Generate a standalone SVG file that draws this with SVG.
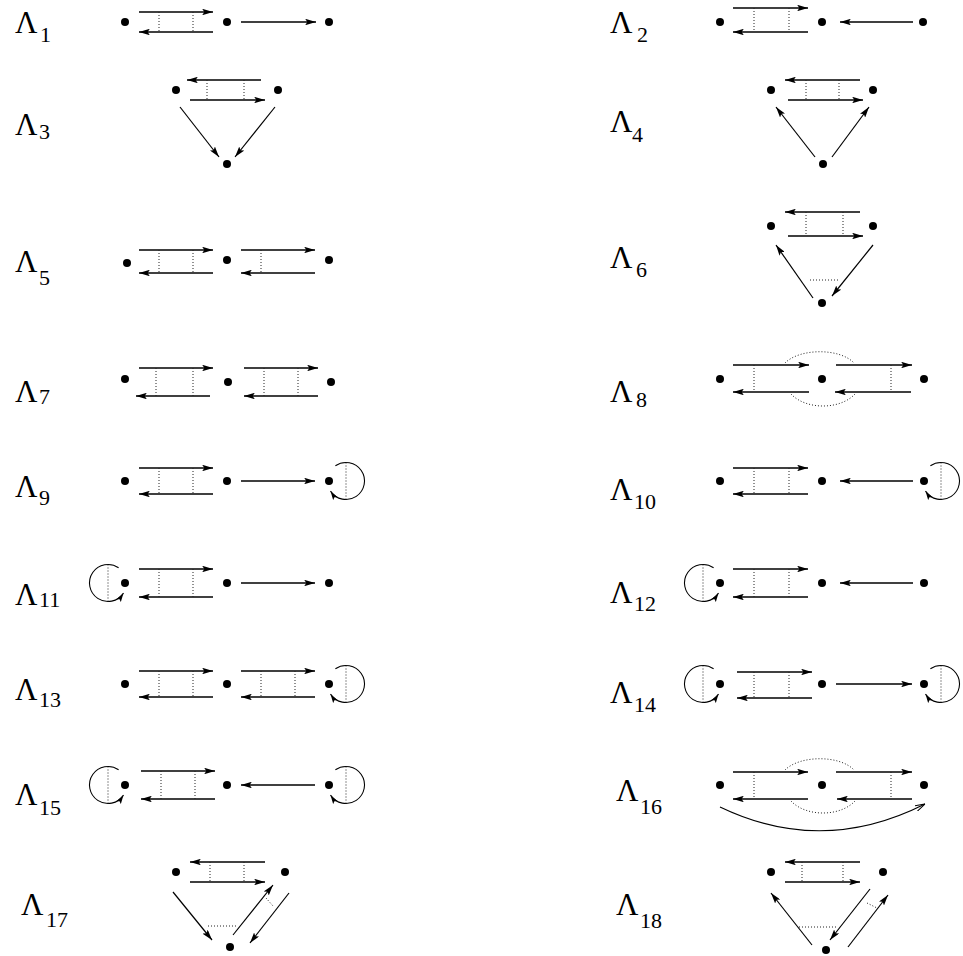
<svg xmlns="http://www.w3.org/2000/svg" width="963" height="956" viewBox="0 0 963 956">
<style>
.e{stroke:#000;stroke-width:1.5;fill:none;marker-end:url(#ah)}
.t{stroke:#000;stroke-width:1.2;fill:none;marker-end:url(#ah)}
.d{stroke:#222;stroke-width:1;stroke-dasharray:1 2;fill:none}
.lp{stroke:#000;stroke-width:1.1;fill:none;marker-end:url(#ahs)}
.n{fill:#000}
.lab{font-family:"Liberation Serif","Times New Roman",serif;font-size:31px;fill:#000}
.sub{font-size:22px}
</style>
<defs>
<marker id="ah" viewBox="0 0 10 6" refX="10" refY="3" markerWidth="11" markerHeight="6.5" markerUnits="userSpaceOnUse" orient="auto"><path d="M0,0 L10,3 L0,6 L2,3 z" fill="#000"/></marker>
<marker id="ahs" viewBox="0 0 10 6" refX="10" refY="3" markerWidth="9" markerHeight="6" markerUnits="userSpaceOnUse" orient="auto"><path d="M0,0 L10,3 L0,6 L2,3 z" fill="#000"/></marker>
<marker id="aho" viewBox="0 0 10 6" refX="10" refY="3" markerWidth="10" markerHeight="6" markerUnits="userSpaceOnUse" orient="auto"><path d="M0,0 L10,3 L0,6" fill="none" stroke="#000" stroke-width="1"/></marker>
</defs>

<!-- Labels -->
<g id="labels">
<text class="lab" x="15" y="33">Λ<tspan class="sub" x="40" y="42">1</tspan></text>
<text class="lab" x="610" y="33">Λ<tspan class="sub" x="637" y="42">2</tspan></text>
<text class="lab" x="15" y="135">Λ<tspan class="sub" x="39" y="139">3</tspan></text>
<text class="lab" x="610" y="132">Λ<tspan class="sub" x="632" y="142">4</tspan></text>
<text class="lab" x="15" y="272">Λ<tspan class="sub" x="39" y="285">5</tspan></text>
<text class="lab" x="610" y="268">Λ<tspan class="sub" x="636" y="277">6</tspan></text>
<text class="lab" x="15" y="402">Λ<tspan class="sub" x="39" y="404">7</tspan></text>
<text class="lab" x="610" y="402">Λ<tspan class="sub" x="636" y="407">8</tspan></text>
<text class="lab" x="15" y="497">Λ<tspan class="sub" x="39" y="505">9</tspan></text>
<text class="lab" x="610" y="500">Λ<tspan class="sub" x="634" y="509">10</tspan></text>
<text class="lab" x="15" y="605">Λ<tspan class="sub" x="39" y="607">11</tspan></text>
<text class="lab" x="610" y="603">Λ<tspan class="sub" x="634" y="611">12</tspan></text>
<text class="lab" x="15" y="700">Λ<tspan class="sub" x="39" y="707">13</tspan></text>
<text class="lab" x="610" y="703">Λ<tspan class="sub" x="634" y="712">14</tspan></text>
<text class="lab" x="15" y="805">Λ<tspan class="sub" x="39" y="815">15</tspan></text>
<text class="lab" x="616" y="801">Λ<tspan class="sub" x="640" y="814">16</tspan></text>
<text class="lab" x="21" y="915">Λ<tspan class="sub" x="46" y="927">17</tspan></text>
<text class="lab" x="616" y="915">Λ<tspan class="sub" x="640" y="928">18</tspan></text>
</g>

<!-- Nodes -->
<g id="nodes">
<g id="L1-a"><circle class="n" cx="125" cy="22" r="4"/></g>
<g id="L1-b"><circle class="n" cx="227" cy="22" r="4"/></g>
<g id="L1-c"><circle class="n" cx="329" cy="22" r="4"/></g>
<g id="L2-a"><circle class="n" cx="720" cy="22" r="4"/></g>
<g id="L2-b"><circle class="n" cx="822" cy="22" r="4"/></g>
<g id="L2-c"><circle class="n" cx="923" cy="22" r="4"/></g>
<g id="L3-a"><circle class="n" cx="176" cy="90" r="4"/></g>
<g id="L3-b"><circle class="n" cx="278" cy="90" r="4"/></g>
<g id="L3-c"><circle class="n" cx="227" cy="164" r="4"/></g>
<g id="L4-a"><circle class="n" cx="771" cy="90" r="4"/></g>
<g id="L4-b"><circle class="n" cx="873" cy="90" r="4"/></g>
<g id="L4-c"><circle class="n" cx="823" cy="164" r="4"/></g>
<g id="L5-a"><circle class="n" cx="127" cy="263" r="4"/></g>
<g id="L5-b"><circle class="n" cx="227" cy="260" r="4"/></g>
<g id="L5-c"><circle class="n" cx="329" cy="260" r="4"/></g>
<g id="L6-a"><circle class="n" cx="771" cy="226" r="4"/></g>
<g id="L6-b"><circle class="n" cx="873" cy="226" r="4"/></g>
<g id="L6-c"><circle class="n" cx="822" cy="303" r="4"/></g>
<g id="L7-a"><circle class="n" cx="125" cy="379" r="4"/></g>
<g id="L7-b"><circle class="n" cx="228" cy="382" r="4"/></g>
<g id="L7-c"><circle class="n" cx="331" cy="382" r="4"/></g>
<g id="L8-a"><circle class="n" cx="720" cy="379" r="4"/></g>
<g id="L8-b"><circle class="n" cx="822" cy="379" r="4"/></g>
<g id="L8-c"><circle class="n" cx="924" cy="379" r="4"/></g>
<g id="L9-a"><circle class="n" cx="125" cy="481" r="4"/></g>
<g id="L9-b"><circle class="n" cx="227" cy="481" r="4"/></g>
<g id="L9-c"><circle class="n" cx="329" cy="481" r="4"/></g>
<g id="L10-a"><circle class="n" cx="720" cy="481" r="4"/></g>
<g id="L10-b"><circle class="n" cx="822" cy="481" r="4"/></g>
<g id="L10-c"><circle class="n" cx="924" cy="481" r="4"/></g>
<g id="L11-a"><circle class="n" cx="125" cy="583" r="4"/></g>
<g id="L11-b"><circle class="n" cx="227" cy="583" r="4"/></g>
<g id="L11-c"><circle class="n" cx="329" cy="583" r="4"/></g>
<g id="L12-a"><circle class="n" cx="720" cy="583" r="4"/></g>
<g id="L12-b"><circle class="n" cx="822" cy="583" r="4"/></g>
<g id="L12-c"><circle class="n" cx="924" cy="583" r="4"/></g>
<g id="L13-a"><circle class="n" cx="125" cy="684" r="4"/></g>
<g id="L13-b"><circle class="n" cx="227" cy="684" r="4"/></g>
<g id="L13-c"><circle class="n" cx="329" cy="684" r="4"/></g>
<g id="L14-a"><circle class="n" cx="720" cy="684" r="4"/></g>
<g id="L14-b"><circle class="n" cx="822" cy="684" r="4"/></g>
<g id="L14-c"><circle class="n" cx="924" cy="684" r="4"/></g>
<g id="L15-a"><circle class="n" cx="125" cy="785" r="4"/></g>
<g id="L15-b"><circle class="n" cx="227" cy="785" r="4"/></g>
<g id="L15-c"><circle class="n" cx="329" cy="785" r="4"/></g>
<g id="L16-a"><circle class="n" cx="720" cy="785" r="4"/></g>
<g id="L16-b"><circle class="n" cx="822" cy="785" r="4"/></g>
<g id="L16-c"><circle class="n" cx="924" cy="785" r="4"/></g>
<g id="L17-a"><circle class="n" cx="176" cy="872" r="4"/></g>
<g id="L17-b"><circle class="n" cx="285" cy="872" r="4"/></g>
<g id="L17-c"><circle class="n" cx="230" cy="947" r="4"/></g>
<g id="L18-a"><circle class="n" cx="771" cy="872" r="4"/></g>
<g id="L18-b"><circle class="n" cx="883" cy="872" r="4"/></g>
<g id="L18-c"><circle class="n" cx="826" cy="950" r="4"/></g>
</g>

<!-- Connectors -->
<g id="connectors">
<!-- L1 -->
<path class="e" d="M139,12 H213"/><path class="e" d="M213,32 H139"/>
<path class="d" d="M159,12 V32 M193,12 V32"/>
<path class="e" d="M241,22 H316"/>
<!-- L2 -->
<path class="e" d="M733,8 H808"/><path class="e" d="M808,32 H733"/>
<path class="d" d="M754,8 V32 M789,8 V32"/>
<path class="e" d="M913,22 H840"/>
<!-- L3 -->
<path class="e" d="M261,80 H187"/><path class="e" d="M190,100 H265"/>
<path class="d" d="M207,80 V100 M244,80 V100"/>
<path class="t" d="M180,107 L219,157"/><path class="t" d="M275,107 L235,157"/>
<!-- L4 -->
<path class="e" d="M860,80 H785"/><path class="e" d="M788,100 H863"/>
<path class="d" d="M806,80 V100 M839,80 V100"/>
<path class="t" d="M815,157 L776,107"/><path class="t" d="M832,157 L869,107"/>
<!-- L5 -->
<path class="e" d="M139,250 H213"/><path class="e" d="M213,273 H139"/>
<path class="d" d="M159,250 V273 M193,250 V273"/>
<path class="e" d="M241,250 H315"/><path class="e" d="M315,273 H241"/>
<path class="d" d="M261,250 V273"/>
<!-- L6 -->
<path class="e" d="M860,212 H785"/><path class="e" d="M788,236 H863"/>
<path class="d" d="M806,212 V236 M843,212 V236"/>
<path class="t" d="M813,298 L776,245"/><path class="t" d="M873,245 L832,296"/>
<path class="d" d="M810,280 H839"/>
<!-- L7 -->
<path class="e" d="M139,368 H213"/><path class="e" d="M210,396 H136"/>
<path class="d" d="M156,368 V396 M193,368 V396"/>
<path class="e" d="M244,368 H318"/><path class="e" d="M318,396 H244"/>
<path class="d" d="M264,368 V396 M298,368 V396"/>
<!-- L8 -->
<path class="e" d="M733,365 H809"/><path class="e" d="M809,392 H733"/>
<path class="d" d="M754,365 V392"/>
<path class="e" d="M836,365 H912"/><path class="e" d="M911,392 H835"/>
<path class="d" d="M891,365 V392"/>
<path class="d" d="M785,363 C800,348 840,348 854,363"/>
<path class="d" d="M791,394 C806,410 840,410 855,394"/>
<!-- L9 -->
<path class="e" d="M139,468 H213"/><path class="e" d="M213,494 H139"/>
<path class="d" d="M159,468 V494 M193,468 V494"/>
<path class="e" d="M241,481 H315"/>
<path class="lp" d="M335.4,465.8 A18.5,18.5 0 1 1 330.5,491.1"/>
<path class="d" d="M346,462.5 V499.5"/>
<!-- L10 -->
<path class="e" d="M733,468 H808"/><path class="e" d="M808,494 H733"/>
<path class="d" d="M754,468 V494 M789,468 V494"/>
<path class="e" d="M913,481 H840"/>
<path class="lp" d="M930.4,465.8 A18.5,18.5 0 1 1 925.5,491.1"/>
<path class="d" d="M941,462.5 V499.5"/>
<!-- L11 -->
<path class="lp" d="M118.6,567.8 A18.5,18.5 0 1 0 123.5,593.1"/>
<path class="d" d="M108,564.5 V601.5"/>
<path class="e" d="M139,569 H213"/><path class="e" d="M213,597 H139"/>
<path class="d" d="M159,569 V597 M193,569 V597"/>
<path class="e" d="M241,583 H315"/>
<!-- L12 -->
<path class="lp" d="M713.6,567.8 A18.5,18.5 0 1 0 718.5,593.1"/>
<path class="d" d="M703,564.5 V601.5"/>
<path class="e" d="M733,569 H808"/><path class="e" d="M808,597 H733"/>
<path class="d" d="M754,569 V597 M789,569 V597"/>
<path class="e" d="M913,583 H840"/>
<!-- L13 -->
<path class="e" d="M139,671 H213"/><path class="e" d="M213,697 H139"/>
<path class="d" d="M159,671 V697 M193,671 V697"/>
<path class="e" d="M241,671 H315"/><path class="e" d="M315,697 H241"/>
<path class="d" d="M261,671 V697 M295,671 V697"/>
<path class="lp" d="M335.4,668.8 A18.5,18.5 0 1 1 330.5,694.1"/>
<path class="d" d="M346,665.5 V702.5"/>
<!-- L14 -->
<path class="lp" d="M713.6,668.8 A18.5,18.5 0 1 0 718.5,694.1"/>
<path class="d" d="M703,665.5 V702.5"/>
<path class="e" d="M737,672 H812"/><path class="e" d="M812,698 H737"/>
<path class="d" d="M754,672 V698 M789,672 V698"/>
<path class="e" d="M836,684 H912"/>
<path class="lp" d="M930.4,668.8 A18.5,18.5 0 1 1 925.5,694.1"/>
<path class="d" d="M941,665.5 V702.5"/>
<!-- L15 -->
<path class="lp" d="M118.6,769.8 A18.5,18.5 0 1 0 123.5,795.1"/>
<path class="d" d="M108,766.5 V803.5"/>
<path class="e" d="M141,771 H215"/><path class="e" d="M215,799 H141"/>
<path class="d" d="M161,771 V799 M195,771 V799"/>
<path class="e" d="M315,785 H241"/>
<path class="lp" d="M335.4,769.8 A18.5,18.5 0 1 1 330.5,795.1"/>
<path class="d" d="M346,766.5 V803.5"/>
<!-- L16 -->
<path class="e" d="M733,772 H808"/><path class="e" d="M808,799 H733"/>
<path class="d" d="M754,772 V799"/>
<path class="e" d="M836,772 H912"/><path class="e" d="M912,799 H837"/>
<path class="d" d="M891,772 V799"/>
<path class="d" d="M785,770 C800,755 840,755 854,770"/>
<path class="d" d="M791,801 C806,817 840,817 855,801"/>
<path d="M720,807 Q822,856 925,804" stroke="#000" stroke-width="1.1" fill="none" marker-end="url(#aho)"/>
<!-- L17 -->
<path class="e" d="M265,862 H190"/><path class="e" d="M190,882 H265"/>
<path class="d" d="M210,862 V882 M244,862 V882"/>
<path class="t" d="M173,892 L212,940"/>
<path class="t" d="M233,935 L273,885"/>
<path class="t" d="M289,893 L250,943"/>
<path class="d" d="M208,926 H237"/>
<path class="d" d="M266,898 L273,906"/>
<!-- L18 -->
<path class="e" d="M860,862 H785"/><path class="e" d="M785,882 H860"/>
<path class="d" d="M802,862 V882 M843,862 V882"/>
<path class="t" d="M812,945 L771,893"/>
<path class="t" d="M870,889 L830,940"/>
<path class="t" d="M848,947 L888,895"/>
<path class="d" d="M799,927 H837"/>
<path class="d" d="M867,903 L877,908"/>
</g>
</svg>
